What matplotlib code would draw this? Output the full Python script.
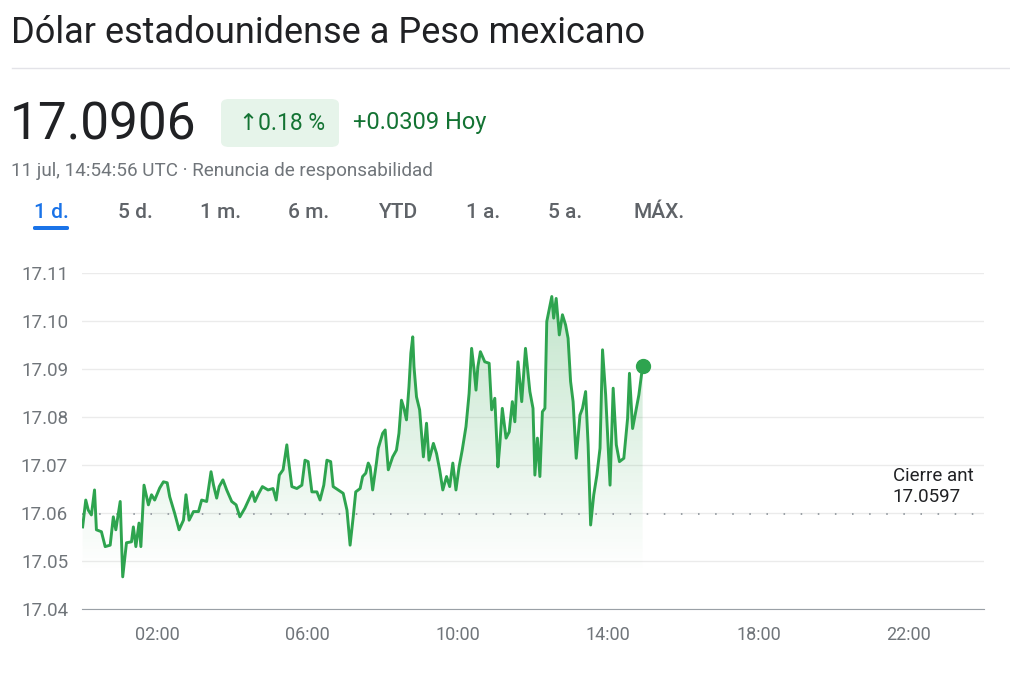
"""Dólar estadounidense a Peso mexicano - intraday chart."""
import matplotlib

matplotlib.use("Agg")
import matplotlib.pyplot as plt
import numpy as np
from matplotlib.patches import FancyBboxPatch

# minutes since midnight (UTC) and USD/MXN quote
MINUTES = [
    1, 6, 10, 15, 20, 23, 31, 37, 45, 50, 54, 61, 65, 71, 79, 82, 86, 91, 94, 99,
    106, 111, 116, 124, 130, 136, 140, 148, 155, 162, 166, 171, 178, 186, 191, 199,
    206, 210, 215, 219, 225, 231, 239, 246, 252, 260, 265, 272, 276, 281, 288, 297,
    305, 310, 315, 321, 327, 329, 335, 343, 351, 356, 361, 367, 375, 380, 386, 391,
    397, 401, 409, 417, 423, 428, 433, 437, 444, 448, 453, 457, 460, 464, 470, 473,
    480, 484, 489, 496, 502, 506, 510, 514, 518, 522, 525, 528, 530, 534, 539, 545,
    550, 554, 561, 566, 571, 576, 582, 587, 592, 597, 602, 607, 613, 618, 622, 626,
    629, 632, 636, 643, 650, 654, 659, 664, 667, 671, 677, 682, 687, 691, 696, 702,
    708, 715, 720, 723, 727, 731, 735, 739, 742, 750, 753, 757, 762, 767, 772, 776,
    780, 784, 789, 795, 799, 804, 808, 812, 817, 822, 827, 831, 836, 843, 848, 853,
    858, 865, 871, 874, 879, 884, 889, 895,
]
RATE = [
    17.0571, 17.0627, 17.0606, 17.0596, 17.0648, 17.0565, 17.0561, 17.0530, 17.0533,
    17.0592, 17.0565, 17.0624, 17.0467, 17.0538, 17.0540, 17.0571, 17.0530, 17.0579,
    17.0530, 17.0658, 17.0617, 17.0638, 17.0627, 17.0652, 17.0665, 17.0663, 17.0634,
    17.0599, 17.0565, 17.0585, 17.0638, 17.0585, 17.0603, 17.0603, 17.0627, 17.0624,
    17.0686, 17.0658, 17.0631, 17.0655, 17.0669, 17.0648, 17.0624, 17.0617, 17.0592,
    17.0610, 17.0624, 17.0644, 17.0624, 17.0638, 17.0655, 17.0648, 17.0651, 17.0627,
    17.0679, 17.0690, 17.0742, 17.0717, 17.0655, 17.0651, 17.0658, 17.0710, 17.0707,
    17.0644, 17.0644, 17.0627, 17.0658, 17.0710, 17.0707, 17.0655, 17.0648, 17.0641,
    17.0606, 17.0533, 17.0592, 17.0644, 17.0651, 17.0676, 17.0683, 17.0704, 17.0696,
    17.0648, 17.0704, 17.0735, 17.0766, 17.0773, 17.0690, 17.0717, 17.0731, 17.0766,
    17.0835, 17.0818, 17.0794, 17.0863, 17.0933, 17.0967, 17.0905, 17.0842, 17.0815,
    17.0717, 17.0787, 17.0710, 17.0745, 17.0724, 17.0690, 17.0648, 17.0676, 17.0655,
    17.0704, 17.0648, 17.0696, 17.0731, 17.0780, 17.0849, 17.0943, 17.0898, 17.0856,
    17.0905, 17.0936, 17.0915, 17.0912, 17.0815, 17.0839, 17.0696, 17.0742, 17.0818,
    17.0756, 17.0769, 17.0832, 17.0790, 17.0915, 17.0832, 17.0943, 17.0853, 17.0818,
    17.0679, 17.0756, 17.0676, 17.0811, 17.0818, 17.0999, 17.1051, 17.1006, 17.1047,
    17.0971, 17.1013, 17.0992, 17.0964, 17.0874, 17.0832, 17.0714, 17.0804, 17.0818,
    17.0853, 17.0742, 17.0575, 17.0638, 17.0679, 17.0735, 17.0940, 17.0846, 17.0658,
    17.0860, 17.0742, 17.0707, 17.0714, 17.0797, 17.0891, 17.0776, 17.0811, 17.0846,
    17.0906,
]
PREV_CLOSE = 17.0597
Y_TICKS = [17.04, 17.05, 17.06, 17.07, 17.08, 17.09, 17.10, 17.11]
X_TICKS = [2, 6, 10, 14, 18, 22]
X_LABELS = ["02:00", "06:00", "10:00", "14:00", "18:00", "22:00"]
TABS = ["1 d.", "5 d.", "1 m.", "6 m.", "YTD", "1 a.", "5 a.", "MÁX."]

GREEN = "#2ea44f"
DARK_GREEN = "#137333"
GREY = "#70757a"
FONT = ["Roboto", "DejaVu Sans"]

W, H = 1010, 678
plt.rcParams["font.family"] = FONT


def fx(px):
    return px / W


def fy(py):
    return 1 - py / H


fig = plt.figure(figsize=(W / 100, H / 100), dpi=100)
fig.patch.set_facecolor("white")

# header
fig.text(fx(11), fy(33), "Dólar estadounidense a Peso mexicano", fontsize=26,
         color="#202124", va="center", ha="left")
fig.add_artist(plt.Line2D([fx(12), fx(1010)], [fy(68), fy(68)], color="#e3e3e8", lw=1))
fig.text(fx(10), fy(125), "17.0906", fontsize=37, color="#202124", va="center")
badge = FancyBboxPatch((fx(221), fy(147)), fx(118), 48 / H,
                       boxstyle="round,pad=0,rounding_size=0.008",
                       transform=fig.transFigure, facecolor="#e6f4ea", edgecolor="none")
fig.add_artist(badge)
fig.text(fx(282), fy(123), "↑0.18 %", fontsize=16.5, color=DARK_GREEN,
         va="center", ha="center")
fig.text(fx(353), fy(123), "+0.0309 Hoy", fontsize=17, color=DARK_GREEN, va="center")
fig.text(fx(11), fy(171), "11 jul, 14:54:56 UTC · Renuncia de responsabilidad",
         fontsize=13.6, color=GREY, va="center")

tab_x = [51, 135, 220, 309, 399, 483, 565, 659]
for i, (tab, x) in enumerate(zip(TABS, tab_x)):
    fig.text(fx(x), fy(212), tab, fontsize=15, ha="center", va="center",
             fontweight="medium", color="#1a73e8" if i == 0 else "#5f6368")
fig.add_artist(FancyBboxPatch((fx(33), fy(230)), fx(36), 4 / H,
                              boxstyle="round,pad=0,rounding_size=0.002",
                              transform=fig.transFigure, facecolor="#1a73e8",
                              edgecolor="none"))

# chart
ax = fig.add_axes([fx(82), fy(609), fx(984 - 82), (609 - 273) / H])
hours = np.array(MINUTES) / 60.0
rate = np.array(RATE)
ax.set_xlim(0, 24)

fill = ax.fill_between(hours, rate, 17.04, facecolor="none", edgecolor="none")
grad = np.zeros((100, 1, 4))
grad[..., 0:3] = matplotlib.colors.to_rgb("#34a853")
grad[:, 0, 3] = np.clip(np.linspace(0.3, -0.04, 100), 0, None)
img = ax.imshow(grad, extent=[0, 24, 17.04, 17.106], aspect="auto", origin="upper",
                zorder=1)
img.set_clip_path(fill.get_paths()[0], transform=ax.transData)
ax.set_ylim(17.04, 17.11)

ax.plot(hours, rate, color=GREEN, lw=2.1, zorder=3, solid_joinstyle="round")
ax.plot(hours[-1], rate[-1], "o", color=GREEN, ms=10, zorder=4, clip_on=False)
ax.axhline(PREV_CLOSE, color="#9aa0a6", lw=1.4, ls=(0, (0.8, 8)), zorder=2)
ax.text(0.899, PREV_CLOSE + 0.0058, "Cierre ant\n17.0597", fontsize=13.5,
        color="#202124", transform=ax.get_yaxis_transform(), va="center", linespacing=1.2)

for spine in ["top", "right", "left"]:
    ax.spines[spine].set_visible(False)
ax.spines["bottom"].set_color("#9aa0a6")
ax.set_yticks(Y_TICKS)
ax.set_yticklabels([f"{v:.2f}" for v in Y_TICKS])
ax.set_xticks(X_TICKS)
ax.set_xticklabels(X_LABELS)
ax.tick_params(length=0, labelsize=13.5, colors=GREY, pad=10)
ax.tick_params(axis="x", labelsize=13, pad=12)
ax.grid(axis="y", color="#ebebeb", lw=1)
ax.set_axisbelow(True)

plt.savefig("out.png", dpi=100)
plt.close()
